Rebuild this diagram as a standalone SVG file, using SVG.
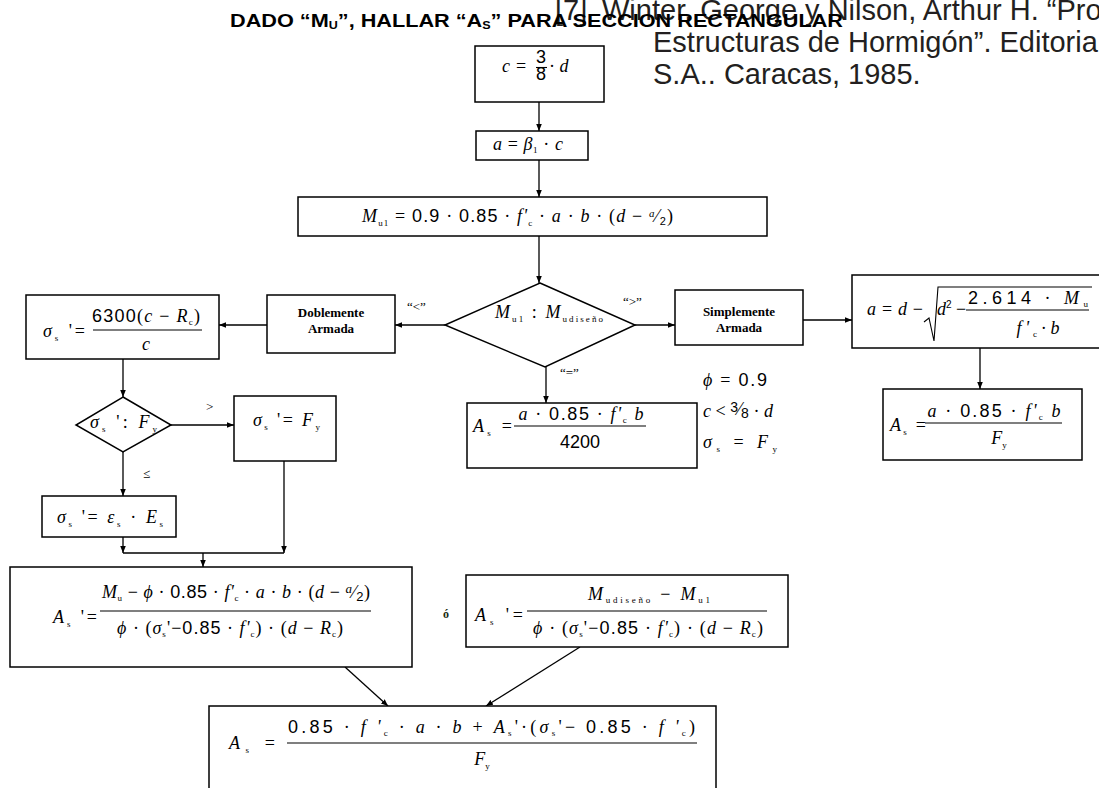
<svg xmlns="http://www.w3.org/2000/svg" width="1099" height="788" viewBox="0 0 1099 788">
<style>
  .bx{fill:#fff;stroke:#000;stroke-width:1.5}
  .ln{fill:none;stroke:#000;stroke-width:1.3}
  .fl{stroke:#000;stroke-width:1.1}
  .eq{font-family:"Liberation Serif",serif;font-style:italic;font-size:18px;fill:#000}
  .nu{font-family:"Liberation Sans",sans-serif;font-style:normal}
  .up{font-style:normal}
  .sb{font-size:9px;font-style:normal}
  .c{text-anchor:middle}
  .bd{font-family:"Liberation Serif",serif;font-weight:bold;font-size:13px;text-anchor:middle}
  .lb{font-family:"Liberation Serif",serif;font-size:13px;fill:#000}
</style>
<defs>
  <marker id="ah" viewBox="0 0 10 10" refX="10" refY="5" markerWidth="7" markerHeight="7" orient="auto" markerUnits="userSpaceOnUse">
    <path d="M0,1 L10,5 L0,9 z" fill="#000"/>
  </marker>
</defs>
<rect width="1099" height="788" fill="#fff"/>

<!-- bibliographic reference -->
<g id="ref" font-family="Liberation Sans, sans-serif" font-size="29" fill="#231f20">
  <text x="555" y="20">[7]<tspan x="602">Winter, George y Nilson, Arthur H. “Pro</tspan></text>
  <text x="653" y="52">Estructuras de Hormigón”. Editorial</text>
  <text x="653" y="84">S.A.. Caracas, 1985.</text>
</g>

<!-- heading -->
<text id="title" x="230" y="27" font-family="Liberation Sans, sans-serif" font-weight="bold" font-size="19" fill="#000" textLength="613" lengthAdjust="spacingAndGlyphs">DADO “M<tspan font-size="11" dy="2">U</tspan><tspan dy="-2">”,  HALLAR “A</tspan><tspan font-size="11" dy="2">S</tspan><tspan dy="-2">” PARA SECCION RECTANGULAR</tspan></text>

<!-- connectors -->
<g id="connectors">
  <path class="ln" d="M539,102V131" marker-end="url(#ah)"/>
  <path class="ln" d="M539,160V197" marker-end="url(#ah)"/>
  <path class="ln" d="M539,236V283" marker-end="url(#ah)"/>
  <path class="ln" d="M635,325H675" marker-end="url(#ah)"/>
  <path class="ln" d="M803,320H852" marker-end="url(#ah)"/>
  <path class="ln" d="M980,348V389" marker-end="url(#ah)"/>
  <path class="ln" d="M546,366V403" marker-end="url(#ah)"/>
  <path class="ln" d="M445,325H395" marker-end="url(#ah)"/>
  <path class="ln" d="M267,325H219" marker-end="url(#ah)"/>
  <path class="ln" d="M123,359V397" marker-end="url(#ah)"/>
  <path class="ln" d="M171,425H234" marker-end="url(#ah)"/>
  <path class="ln" d="M123,452V496" marker-end="url(#ah)"/>
  <path class="ln" d="M123,537V553" marker-end="url(#ah)"/>
  <path class="ln" d="M284,461V553" marker-end="url(#ah)"/>
  <path class="ln" d="M123,553H284"/>
  <path class="ln" d="M203,553V567" marker-end="url(#ah)"/>
  <path class="ln" d="M345,667L388,706" marker-end="url(#ah)"/>
  <path class="ln" d="M580,647L486,706" marker-end="url(#ah)"/>
</g>

<!-- c = 3/8 d -->
<g id="n-c">
  <rect class="bx" x="475" y="46" width="129" height="56"/>
  <text class="eq" x="502" y="72" font-size="14">c</text>
  <text class="eq up" x="516" y="72" font-size="14">=</text>
  <text class="eq nu c" x="541" y="63" font-size="11">3</text>
  <line class="fl" x1="536" y1="67.5" x2="547" y2="67.5"/>
  <text class="eq nu c" x="541" y="80" font-size="11">8</text>
  <text class="eq" x="549" y="72" font-size="14"><tspan class="up">·</tspan> d</text>
</g>

<!-- a = beta1 c -->
<g id="n-a">
  <rect class="bx" x="476" y="131" width="112" height="29"/>
  <text class="eq" x="493" y="150" font-size="12" textLength="70" lengthAdjust="spacing">a <tspan class="up">=</tspan> β<tspan class="sb" font-size="7" dy="3">1</tspan><tspan dy="-3"> <tspan class="up">·</tspan> c</tspan></text>
</g>

<!-- Mu1 -->
<g id="n-mu1">
  <rect class="bx" x="298" y="197" width="469" height="39"/>
  <text class="eq" x="362" y="222" font-size="15" textLength="311" lengthAdjust="spacing">M<tspan class="sb" dy="4">u1</tspan><tspan dy="-4"> <tspan class="up">=</tspan> <tspan class="nu">0.9</tspan><tspan class="up"> · </tspan><tspan class="nu">0.85</tspan><tspan class="up"> · </tspan>f'</tspan><tspan class="sb" dy="4">c</tspan><tspan dy="-4"><tspan class="up"> · </tspan>a<tspan class="up"> · </tspan>b<tspan class="up"> · (</tspan>d <tspan class="up">−</tspan> </tspan><tspan font-size="11" dy="-5">a</tspan><tspan class="up" dy="5">⁄</tspan><tspan class="nu" font-size="11" dy="3">2</tspan><tspan class="up" dy="-3">)</tspan></text>
</g>

<!-- decision Mu1 : Mu diseño -->
<g id="n-dec1">
  <polygon class="bx" points="540,283 635,325 545,367 445,325"/>
  <text class="eq" x="495" y="318" font-size="15" textLength="108" lengthAdjust="spacing">M<tspan class="sb" dy="4">u1</tspan><tspan dy="-4"> <tspan class="up">:</tspan> M</tspan><tspan class="sb" dy="4">udiseño</tspan></text>
  <text class="lb" x="623" y="306">“&gt;”</text>
  <text class="lb" x="407" y="311">“&lt;”</text>
  <text class="lb" x="560" y="377">“=”</text>
</g>

<!-- Simplemente Armada -->
<g id="n-simple">
  <rect class="bx" x="675" y="290" width="128" height="55"/>
  <text class="bd" x="739" y="316">Simplemente</text>
  <text class="bd" x="739" y="332">Armada</text>
</g>

<!-- a = d - sqrt(...) -->
<g id="n-aroot">
  <rect class="bx" x="852" y="275" width="260" height="73"/>
  <text class="eq" x="867" y="315" textLength="56" lengthAdjust="spacing">a <tspan class="up">=</tspan> d <tspan class="up">−</tspan></text>
  <path class="fl" fill="none" d="M924,322 L929,318 L934,341 L938,287 H1092"/>
  <text class="eq" x="937" y="315">d<tspan class="nu" font-size="10" dy="-7">2</tspan><tspan class="up" dy="7"> −</tspan></text>
  <text class="eq c" x="1028" y="304" textLength="120" lengthAdjust="spacing"><tspan class="nu">2.614</tspan><tspan class="up"> · </tspan>M<tspan class="sb" dy="3">u</tspan></text>
  <line class="fl" x1="966" y1="310" x2="1089" y2="310"/>
  <text class="eq c" x="1038" y="334" textLength="43" lengthAdjust="spacing">f'<tspan class="sb" dy="3">c</tspan><tspan class="up" dy="-3">·</tspan>b</text>
</g>

<!-- As = a 0.85 f'c b / Fy -->
<g id="n-asfy">
  <rect class="bx" x="883" y="389" width="199" height="71"/>
  <text class="eq" x="890" y="431" textLength="36" lengthAdjust="spacing">A<tspan class="sb" dy="4">s</tspan><tspan class="up" dy="-4"> =</tspan></text>
  <text class="eq c" x="994" y="417" textLength="133" lengthAdjust="spacing">a<tspan class="up"> · </tspan><tspan class="nu">0.85</tspan><tspan class="up"> · </tspan>f'<tspan class="sb" dy="3">c</tspan><tspan dy="-3"> b</tspan></text>
  <line class="fl" x1="925" y1="423" x2="1062" y2="423"/>
  <text class="eq c" x="999" y="444">F<tspan class="sb" dy="4">y</tspan></text>
</g>

<!-- As = a 0.85 f'c b / 4200 -->
<g id="n-as4200">
  <rect class="bx" x="467" y="403" width="230" height="65"/>
  <text class="eq" x="473" y="432" textLength="39" lengthAdjust="spacing">A<tspan class="sb" dy="4">s</tspan><tspan class="up" dy="-4"> =</tspan></text>
  <text class="eq c" x="581" y="420" textLength="125" lengthAdjust="spacing">a<tspan class="up"> · </tspan><tspan class="nu">0.85</tspan><tspan class="up"> · </tspan>f'<tspan class="sb" dy="3">c</tspan><tspan dy="-3"> b</tspan></text>
  <line class="fl" x1="514" y1="426" x2="646" y2="426"/>
  <text class="eq nu c" x="580" y="448">4200</text>
</g>

<!-- assumptions -->
<g id="n-notes">
  <text class="eq" x="703" y="386" textLength="64" lengthAdjust="spacing">ϕ <tspan class="up">=</tspan> <tspan class="nu">0.9</tspan></text>
  <text class="eq" x="703" y="417" textLength="70" lengthAdjust="spacing">c <tspan class="up">&lt;</tspan> <tspan class="nu" font-size="14" dy="-5">3</tspan><tspan class="up" dy="3">⁄</tspan><tspan class="nu" font-size="14" dy="3">8</tspan><tspan dy="-1"><tspan class="up"> · </tspan>d</tspan></text>
  <text class="eq" x="703" y="448" textLength="74" lengthAdjust="spacing">σ<tspan class="sb" dy="4">s</tspan><tspan dy="-4"> <tspan class="up">=</tspan> F</tspan><tspan class="sb" dy="4">y</tspan></text>
</g>

<!-- Doblemente Armada -->
<g id="n-doble">
  <rect class="bx" x="267" y="295" width="128" height="58"/>
  <text class="bd" x="331" y="317">Doblemente</text>
  <text class="bd" x="331" y="333">Armada</text>
</g>

<!-- sigma's = 6300(c-Rc)/c -->
<g id="n-sig">
  <rect class="bx" x="26" y="295" width="193" height="64"/>
  <text class="eq" x="43" y="337" textLength="42" lengthAdjust="spacing">σ<tspan class="sb" dy="4">s</tspan><tspan class="up" dy="-4"> '=</tspan></text>
  <text class="eq c" x="146" y="322" textLength="108" lengthAdjust="spacing"><tspan class="nu">6300</tspan><tspan class="up">(</tspan>c <tspan class="up">−</tspan> R<tspan class="sb" dy="3">c</tspan><tspan class="up" dy="-3">)</tspan></text>
  <line class="fl" x1="93" y1="330" x2="202" y2="330"/>
  <text class="eq c" x="146" y="350">c</text>
</g>

<!-- decision sigma's : Fy -->
<g id="n-dec2">
  <polygon class="bx" points="123,397 171,425 123,452 76,425"/>
  <text class="eq" x="90" y="428" textLength="67" lengthAdjust="spacing">σ<tspan class="sb" dy="4">s</tspan><tspan class="up" dy="-4"> ': </tspan>F<tspan class="sb" dy="4">y</tspan></text>
  <text class="lb" x="206" y="411">&gt;</text>
  <text class="lb" x="143" y="478">≤</text>
</g>

<!-- sigma's = Fy -->
<g id="n-sigfy">
  <rect class="bx" x="234" y="396" width="102" height="65"/>
  <text class="eq" x="253" y="426" textLength="67" lengthAdjust="spacing">σ<tspan class="sb" dy="4">s</tspan><tspan class="up" dy="-4"> '= </tspan>F<tspan class="sb" dy="4">y</tspan></text>
</g>

<!-- sigma's = eps_s Es -->
<g id="n-sigeps">
  <rect class="bx" x="42" y="496" width="134" height="41"/>
  <text class="eq" x="57" y="523" textLength="106" lengthAdjust="spacing">σ<tspan class="sb" dy="4">s</tspan><tspan class="up" dy="-4"> '= </tspan>ε<tspan class="sb" dy="4">s</tspan><tspan dy="-4"><tspan class="up"> · </tspan>E</tspan><tspan class="sb" dy="4">s</tspan></text>
</g>

<!-- A's (moment form) -->
<g id="n-asp1">
  <rect class="bx" x="10" y="567" width="402" height="100"/>
  <text class="eq" x="53" y="623" textLength="44" lengthAdjust="spacing">A<tspan class="sb" dy="4">s</tspan><tspan class="up" dy="-4"> '=</tspan></text>
  <text class="eq" x="102" y="598" textLength="268" lengthAdjust="spacing">M<tspan class="sb" dy="3">u</tspan><tspan dy="-3"><tspan class="up"> − </tspan>ϕ<tspan class="up"> · </tspan><tspan class="nu">0.85</tspan><tspan class="up"> · </tspan>f'</tspan><tspan class="sb" dy="3">c</tspan><tspan dy="-3"><tspan class="up"> · </tspan>a<tspan class="up"> · </tspan>b<tspan class="up"> · (</tspan>d <tspan class="up">−</tspan> </tspan><tspan font-size="13" dy="-5">a</tspan><tspan class="up" dy="5">⁄</tspan><tspan class="nu" font-size="13" dy="3">2</tspan><tspan class="up" dy="-3">)</tspan></text>
  <line class="fl" x1="100" y1="611" x2="371" y2="611"/>
  <text class="eq" x="117" y="634" textLength="226" lengthAdjust="spacing">ϕ<tspan class="up"> · (</tspan>σ<tspan class="sb" dy="3">s</tspan><tspan dy="-3"><tspan class="up">'−</tspan><tspan class="nu">0.85</tspan><tspan class="up"> · </tspan>f'</tspan><tspan class="sb" dy="3">c</tspan><tspan dy="-3"><tspan class="up">) · (</tspan>d <tspan class="up">−</tspan> R</tspan><tspan class="sb" dy="3">c</tspan><tspan class="up" dy="-3">)</tspan></text>
</g>

<!-- A's (difference form) -->
<g id="n-asp2">
  <text x="443" y="618" font-family="Liberation Serif, serif" font-weight="bold" font-size="12" fill="#1a2a10">ó</text>
  <rect class="bx" x="466" y="575" width="322" height="72"/>
  <text class="eq" x="475" y="621" textLength="48" lengthAdjust="spacing">A<tspan class="sb" dy="4">s</tspan><tspan class="up" dy="-4"> '=</tspan></text>
  <text class="eq" x="588" y="600" textLength="122" lengthAdjust="spacing">M<tspan class="sb" dy="3">udiseño</tspan><tspan dy="-3"><tspan class="up"> − </tspan>M</tspan><tspan class="sb" dy="3">u1</tspan></text>
  <line class="fl" x1="527" y1="611" x2="767" y2="611"/>
  <text class="eq" x="533" y="634" textLength="230" lengthAdjust="spacing">ϕ<tspan class="up"> · (</tspan>σ<tspan class="sb" dy="3">s</tspan><tspan dy="-3"><tspan class="up">'−</tspan><tspan class="nu">0.85</tspan><tspan class="up"> · </tspan>f'</tspan><tspan class="sb" dy="3">c</tspan><tspan dy="-3"><tspan class="up">) · (</tspan>d <tspan class="up">−</tspan> R</tspan><tspan class="sb" dy="3">c</tspan><tspan class="up" dy="-3">)</tspan></text>
</g>

<!-- As final -->
<g id="n-asfinal">
  <rect class="bx" x="209" y="706" width="507" height="100"/>
  <text class="eq" x="229" y="749" textLength="46" lengthAdjust="spacing">A<tspan class="sb" dy="4">s</tspan><tspan class="up" dy="-4">  =</tspan></text>
  <text class="eq" x="288" y="733" textLength="407" lengthAdjust="spacing"><tspan class="nu">0.85</tspan><tspan class="up"> · </tspan>f '<tspan class="sb" dy="3">c</tspan><tspan dy="-3"><tspan class="up"> · </tspan>a<tspan class="up"> · </tspan>b<tspan class="up"> + </tspan>A</tspan><tspan class="sb" dy="3">s</tspan><tspan dy="-3"><tspan class="up">'·(</tspan>σ</tspan><tspan class="sb" dy="3">s</tspan><tspan dy="-3"><tspan class="up">'− </tspan><tspan class="nu">0.85</tspan><tspan class="up"> · </tspan>f '</tspan><tspan class="sb" dy="3">c</tspan><tspan class="up" dy="-3">)</tspan></text>
  <line class="fl" x1="287" y1="743" x2="697" y2="743"/>
  <text class="eq c" x="482" y="765">F<tspan class="sb" dy="4">y</tspan></text>
</g>
</svg>
